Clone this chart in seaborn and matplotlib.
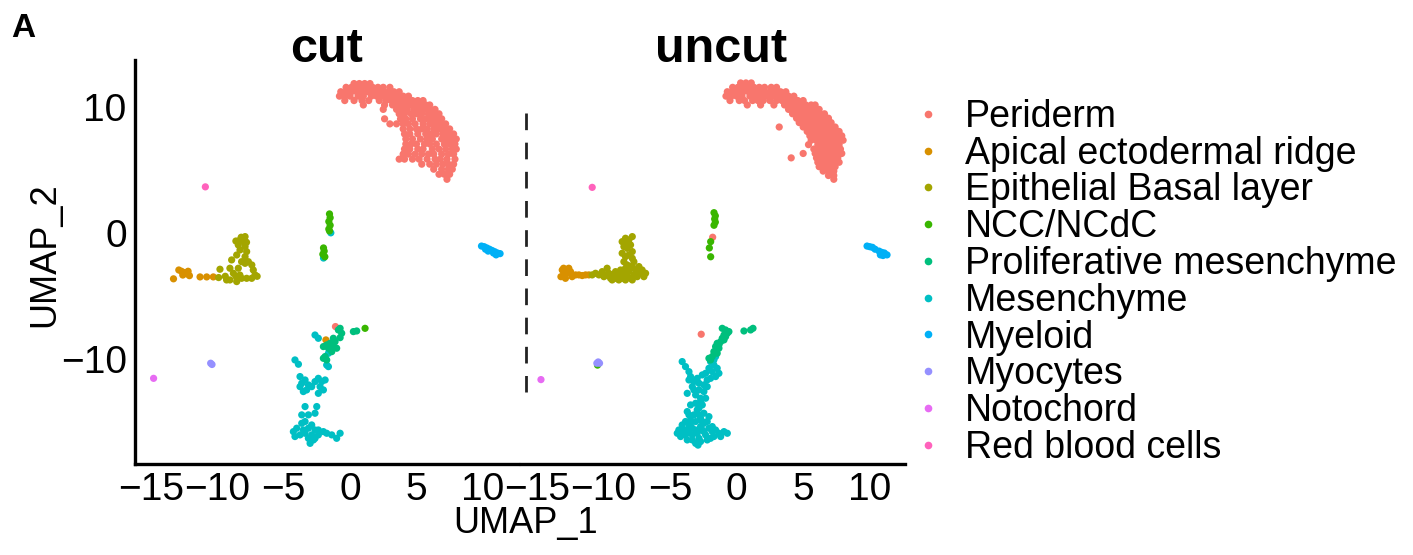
import matplotlib
matplotlib.use('Agg')
from matplotlib import pyplot as plt
from matplotlib.lines import Line2D
import seaborn as sns
from pandas import DataFrame, concat

cell_types = ['Periderm', 'Apical ectodermal ridge', 'Epithelial Basal layer', 'NCC/NCdC',
              'Proliferative mesenchyme', 'Mesenchyme', 'Myeloid', 'Myocytes',
              'Notochord', 'Red blood cells']
type_colors = ['#F8766D', '#D89000', '#A3A500', '#39B600', '#00BF7D',
               '#00BFC4', '#00B0F6', '#9590FF', '#E76BF3', '#FF62BC']
draw_order = ['Mesenchyme', 'Periderm', 'Apical ectodermal ridge', 'Epithelial Basal layer',
              'NCC/NCdC', 'Proliferative mesenchyme', 'Myeloid', 'Myocytes',
              'Notochord', 'Red blood cells']
x_ticks = [-15, -10, -5, 0, 5, 10]
y_ticks = [-10, 0, 10]

# ---- cut: (UMAP_2 row, UMAP_1 values) for the dense periderm arc
cut_periderm_rows = [
    (11.9, [0.3, 0.7, 1.1, 1.5]),
    (11.6, [-0.3, 0.1, 0.5, 0.9, 1.3, 1.7, 2.1, 2.5, 3.0]),
    (11.25, [-0.7, -0.3, 0.1, 0.5, 0.9, 1.3, 1.7, 2.1, 2.5, 2.9, 3.3, 3.7]),
    (10.9, [-0.8, -0.4, 0.0, 0.6, 1.0, 1.6, 2.0, 2.4, 2.8, 3.2, 3.6, 4.0, 4.4]),
    (10.55, [-0.4, 0.3, 0.9, 1.4, 2.2, 2.7, 3.1, 3.5, 3.9, 4.3, 4.7, 5.1, 5.5]),
    (10.2, [1.0, 2.6, 3.2, 3.7, 4.1, 4.5, 4.9, 5.3, 5.7, 6.0]),
    (9.85, [2.5, 3.5, 3.9, 4.3, 4.8, 5.2, 5.6, 6.0, 6.4]),
    (9.5, [3.7, 4.1, 4.6, 5.0, 5.4, 5.9, 6.3, 6.7]),
    (9.1, [2.6, 3.8, 4.2, 4.7, 5.3, 5.7, 6.1, 6.5, 6.9]),
    (8.7, [3.0, 3.5, 4.0, 4.4, 4.9, 5.5, 6.0, 6.4, 6.8, 7.2]),
    (8.3, [4.0, 4.5, 5.0, 5.4, 5.8, 6.3, 6.7, 7.1, 7.5]),
    (7.9, [4.1, 4.5, 5.1, 5.7, 6.1, 6.5, 7.0, 7.4, 7.8]),
    (7.5, [4.2, 4.7, 5.3, 5.8, 6.2, 6.9, 7.3, 7.7, 8.0]),
    (7.1, [4.2, 4.6, 5.0, 5.6, 6.0, 6.5, 7.1, 7.5, 7.9]),
    (6.7, [4.1, 4.5, 5.1, 5.5, 6.2, 6.7, 7.2, 7.7, 8.0]),
    (6.3, [4.0, 4.4, 4.9, 5.4, 5.9, 6.3, 6.9, 7.4, 7.8]),
    (5.9, [3.7, 4.1, 4.7, 5.2, 5.8, 6.4, 6.8, 7.3, 7.9]),
    (5.5, [5.4, 6.0, 6.5, 7.0, 7.4, 7.8]),
    (5.1, [6.3, 6.9, 7.4, 7.7]),
    (4.7, [6.7, 7.1, 7.5]),
    (4.3, [7.3]),
]
cut_periderm_extra = [(-1.1, -7.39)]
cut_apical = [(-13.3, -3.6), (-12.9, -2.9), (-12.7, -3.0), (-12.5, -3.1), (-12.3, -3.2),
              (-12.1, -3.35), (-12.6, -3.3), (-12.2, -3.0), (-11.3, -3.45), (-10.8, -3.45),
              (-10.3, -3.45), (-1.82, -8.45)]
cut_epithelial = [(-7.91, -0.25), (-8.29, -0.52), (-8.04, -0.65), (-8.42, -0.91), (-7.91, -1.04),
                  (-8.29, -1.31), (-7.79, -1.44), (-8.54, -1.71), (-7.91, -1.84), (-7.66, -2.24),
                  (-8.17, -2.24), (-8.2, -0.3), (-8.6, -0.6), (-7.8, -0.7), (-8.92, -2.1),
                  (-9.05, -2.76), (-8.79, -3.16), (-8.42, -2.76), (-7.91, -2.37), (-7.29, -2.9),
                  (-7.16, -3.29), (-7.41, -3.56), (-7.79, -3.56), (-8.17, -3.56), (-8.54, -3.82),
                  (-9.05, -3.69), (-9.3, -3.69), (-9.8, -2.84), (-9.9, -3.5), (-9.4, -3.4),
                  (-8.6, -3.4), (-7.4, -2.5), (-8.3, -3.3), (-7.0, -3.4)]
cut_ncc = [(-1.55, 1.55), (-1.5, 1.25), (-1.6, 0.95), (-1.5, 0.65), (-1.6, 0.35), (-1.55, 0.2),
           (-2.0, -1.15), (-1.95, -1.4), (-2.05, -1.65), (-1.9, -1.85), (1.13, -7.53)]
cut_prolif = [(-0.88, -7.66), (-0.63, -7.92), (-0.75, -8.27), (-1.26, -8.32), (-1.51, -8.72),
              (-1.26, -8.98), (-1.01, -9.11), (-1.76, -8.85), (-2.01, -8.98), (-1.38, -9.38),
              (-1.63, -9.11), (-2.01, -9.91), (-1.76, -10.04), (-1.88, -9.77), (0.25, -7.79),
              (0.5, -7.74), (-1.13, -8.59), (-0.75, -7.53)]
cut_mesenchyme = [(-1.45, 0.05), (-2.0, -1.95), (-2.64, -8.06), (-2.39, -8.32), (-1.63, -9.51),
                  (-1.76, -10.44), (-1.63, -10.57), (-4.15, -10.04), (-3.89, -10.38),
                  (-3.77, -11.36), (-3.64, -11.89), (-3.39, -11.63), (-3.14, -12.02), (-3.27, -12.42),
                  (-2.89, -12.16), (-2.64, -11.76), (-2.39, -11.5), (-2.14, -11.76), (-2.26, -12.16),
                  (-1.88, -11.63), (-2.01, -12.42), (-2.39, -12.69), (-3.77, -12.16), (-3.52, -12.55),
                  (-3.39, -13.74), (-3.14, -14.4), (-2.51, -13.74), (-2.64, -14.27), (-3.64, -14.4),
                  (-4.27, -15.73), (-4.02, -15.46), (-4.15, -16.12), (-3.64, -15.07), (-3.39, -14.93),
                  (-3.14, -15.46), (-2.89, -15.2), (-2.64, -15.6), (-2.89, -15.99), (-3.14, -16.26),
                  (-3.39, -15.86), (-2.64, -16.26), (-2.39, -15.99), (-2.01, -15.73), (-1.76, -15.86),
                  (-1.38, -15.99), (-1.01, -16.26), (-0.75, -15.86), (-3.77, -15.99), (-3.01, -16.66),
                  (-2.76, -16.39), (-3.52, -15.6), (-2.39, -15.6)]
cut_myeloid = [(9.9, -1.0), (10.1, -1.05), (10.3, -1.15), (10.5, -1.25), (10.7, -1.35),
               (10.9, -1.45), (11.1, -1.55), (11.3, -1.6), (10.4, -1.4), (10.8, -1.55),
               (10.2, -1.25), (11.0, -1.7)]
cut_myocytes = [(-10.5, -10.3), (-10.4, -10.4)]
cut_notochord = [(-14.8, -11.5)]
cut_rbc = [(-10.9, 3.7)]

# ---- uncut
uncut_periderm_rows = [
    (11.95, [0.3, 0.7, 1.1]),
    (11.6, [-0.3, 0.1, 0.5, 0.9, 1.3, 1.7, 2.1, 2.6, 3.0]),
    (11.25, [-0.7, -0.3, 0.1, 0.5, 0.9, 1.3, 1.7, 2.1, 2.5, 2.9, 3.3, 3.7]),
    (10.9, [-0.8, -0.4, 0.0, 0.4, 1.0, 1.4, 1.8, 2.3, 2.7, 3.1, 3.5, 3.9, 4.3]),
    (10.55, [-0.5, 0.2, 0.6, 1.2, 1.6, 2.0, 2.5, 3.0, 3.4, 3.8, 4.2, 4.6, 5.0]),
    (10.2, [0.8, 1.8, 2.8, 3.6, 4.0, 4.4, 4.8, 5.2, 5.6, 5.9]),
    (9.85, [3.9, 4.3, 4.7, 5.1, 5.5, 5.9, 6.2]),
    (9.5, [4.2, 4.6, 5.0, 5.4, 5.8, 6.2, 6.6]),
    (9.15, [4.5, 4.9, 5.3, 5.7, 6.1, 6.5, 6.9]),
    (8.8, [4.7, 5.1, 5.5, 5.9, 6.3, 6.7, 7.1]),
    (8.45, [3.2, 5.0, 5.4, 5.8, 6.2, 6.6, 7.0, 7.4]),
    (8.1, [5.3, 5.7, 6.1, 6.5, 6.9, 7.3, 7.7]),
    (7.75, [5.5, 5.9, 6.3, 6.7, 7.1, 7.5, 7.9]),
    (7.4, [5.6, 6.0, 6.4, 6.8, 7.2, 7.6, 8.0]),
    (7.05, [5.4, 6.1, 6.5, 6.9, 7.3, 7.7]),
    (6.7, [5.8, 6.2, 6.6, 7.0, 7.4, 7.8]),
    (6.35, [5.0, 5.9, 6.3, 6.7, 7.1, 7.5, 7.9]),
    (6.0, [4.1, 6.0, 6.4, 6.8, 7.2, 7.6]),
    (5.65, [6.1, 6.5, 6.9, 7.3, 7.7]),
    (5.3, [6.2, 6.6, 7.0, 7.4]),
    (4.95, [6.5, 6.9, 7.3]),
    (4.6, [6.9, 7.3]),
    (4.3, [7.3]),
]
uncut_periderm_extra = [(-1.8, -0.3), (-2.66, -8.0)]
uncut_apical = [(-13.1, -2.9), (-13.0, -3.29), (-12.73, -3.16), (-12.86, -3.56), (-12.48, -3.03),
                (-12.36, -3.43), (-12.1, -3.29), (-11.85, -3.29), (-11.6, -3.34), (-11.35, -3.29),
                (-11.1, -3.29), (-12.61, -2.76), (-13.2, -3.43), (-13.0, -2.76)]
uncut_epithelial = [(-10.85, -3.29), (-10.6, -3.16), (-10.35, -3.29), (-10.1, -3.03), (-9.97, -3.43),
                    (-9.73, -2.76), (-9.6, -3.16), (-9.47, -3.56), (-9.35, -3.29), (-9.1, -3.03),
                    (-9.1, -3.56), (-8.85, -3.29), (-8.72, -2.9), (-8.6, -3.56), (-8.47, -3.16),
                    (-8.22, -3.43), (-8.1, -3.03), (-7.97, -3.56), (-7.72, -3.29), (-7.6, -2.9),
                    (-7.47, -3.43), (-7.34, -2.63), (-7.22, -3.16), (-7.1, -2.9), (-6.97, -3.43),
                    (-6.84, -3.16), (-8.35, -2.76), (-7.84, -2.63), (-9.35, -3.69), (-8.85, -3.69),
                    (-8.35, -3.69), (-7.84, -3.69), (-9.85, -3.29),
                    (-8.6, -0.65), (-8.35, -0.38), (-8.1, -0.52), (-7.84, -0.25), (-7.97, -0.91),
                    (-8.47, -1.04), (-8.22, -1.18), (-8.6, -1.57), (-8.35, -1.84), (-8.1, -1.71),
                    (-7.84, -1.97), (-7.72, -2.24), (-8.47, -2.24), (-8.22, -2.5), (-7.97, -2.63),
                    (-7.84, -1.44), (-8.3, -0.78)]
uncut_ncc = [(-1.7, 1.65), (-1.6, 1.4), (-1.65, 1.15), (-1.6, 0.9), (-1.7, 0.65),
             (-1.95, -0.65), (-2.05, -1.15), (-1.95, -1.85), (-10.45, -10.45)]
uncut_prolif = [(-1.08, -7.53), (-0.83, -7.66), (-0.7, -7.92), (-0.83, -8.19), (-1.08, -8.32),
                (-1.2, -8.59), (-1.46, -8.72), (-1.58, -8.98), (-1.33, -9.11), (-1.71, -9.38),
                (-1.46, -9.51), (-1.83, -9.77), (-1.96, -10.04), (-2.08, -9.91), (-0.95, -8.06),
                (-0.58, -7.79), (0.55, -7.74), (1.05, -7.66), (1.23, -7.53), (-0.95, -8.45),
                (-1.33, -8.85)]
uncut_mesenchyme = [(-4.09, -10.17), (-3.84, -10.57), (-3.58, -10.97), (-3.46, -11.36),
                    (-1.96, -10.17), (-1.71, -10.44), (-2.08, -10.7), (-2.33, -11.1), (-1.83, -10.97),
                    (-1.96, -11.5), (-2.21, -11.63), (-2.46, -12.02), (-2.83, -11.89), (-3.21, -11.76),
                    (-3.58, -11.63), (-3.33, -12.16), (-2.83, -12.42), (-2.46, -12.55), (-3.08, -12.82),
                    (-2.71, -13.08), (-3.08, -13.48), (-2.58, -13.61), (-2.96, -14.0), (-3.21, -14.4),
                    (-2.83, -14.4), (-2.46, -14.27), (-2.71, -14.67), (-3.08, -14.93), (-3.46, -14.8),
                    (-3.84, -14.93), (-4.09, -15.2), (-4.34, -15.6), (-4.46, -15.86), (-4.21, -16.12),
                    (-3.84, -15.99), (-3.58, -15.73), (-3.33, -15.46), (-3.08, -15.6), (-2.71, -15.33),
                    (-2.46, -15.07), (-2.21, -14.93), (-2.08, -15.46), (-1.83, -15.73), (-1.58, -15.6),
                    (-1.33, -15.86), (-0.95, -15.73), (-0.7, -15.86), (-1.2, -16.12), (-1.71, -16.12),
                    (-2.33, -15.99), (-2.83, -16.26), (-3.33, -16.39), (-3.08, -16.66), (-2.71, -16.52),
                    (-3.58, -15.33), (-3.96, -15.6), (-2.46, -15.73), (-2.08, -14.54), (-3.58, -14.4),
                    (-3.71, -14.14), (-3.46, -13.61), (-2.33, -13.08), (-3.71, -12.69), (-3.21, -12.42),
                    (-2.21, -12.16), (-2.58, -11.23), (-2.96, -11.5), (-1.58, -11.36), (-1.46, -10.7),
                    (-1.33, -11.1), (-1.71, -10.04), (-1.58, -9.77), (-1.96, -16.26), (-4.09, -15.86),
                    (-3.33, -15.99), (-2.96, -15.86), (-2.58, -15.6), (-3.46, -15.07), (-2.71, -13.35),
                    (-2.83, -13.87), (-2.58, -14.93), (-1.83, -15.33), (-3.71, -16.39), (-2.21, -16.39),
                    (-2.9, -16.8)]
uncut_myeloid = [(9.8, -1.0), (10.0, -1.05), (10.2, -1.1), (10.4, -1.25), (10.7, -1.4),
                 (10.9, -1.5), (11.1, -1.55), (11.3, -1.7), (10.8, -1.7), (11.0, -1.75)]
uncut_myocytes = [(-10.4, -10.2), (-10.3, -10.3), (-10.5, -10.3)]
uncut_notochord = [(-14.7, -11.6)]
uncut_rbc = [(-10.85, 3.66)]


def rows_to_points(rows):
    return [(x, y) for y, xs in rows for x in xs]


cut_clusters = {
    'Periderm': rows_to_points(cut_periderm_rows) + cut_periderm_extra,
    'Apical ectodermal ridge': cut_apical,
    'Epithelial Basal layer': cut_epithelial,
    'NCC/NCdC': cut_ncc,
    'Proliferative mesenchyme': cut_prolif,
    'Mesenchyme': cut_mesenchyme,
    'Myeloid': cut_myeloid,
    'Myocytes': cut_myocytes,
    'Notochord': cut_notochord,
    'Red blood cells': cut_rbc,
}
uncut_clusters = {
    'Periderm': rows_to_points(uncut_periderm_rows) + uncut_periderm_extra,
    'Apical ectodermal ridge': uncut_apical,
    'Epithelial Basal layer': uncut_epithelial,
    'NCC/NCdC': uncut_ncc,
    'Proliferative mesenchyme': uncut_prolif,
    'Mesenchyme': uncut_mesenchyme,
    'Myeloid': uncut_myeloid,
    'Myocytes': uncut_myocytes,
    'Notochord': uncut_notochord,
    'Red blood cells': uncut_rbc,
}


def to_frame(clusters):
    parts = []
    for name in draw_order:
        part = DataFrame(clusters[name], columns=['UMAP_1', 'UMAP_2'])
        part['cell_type'] = name
        parts.append(part)
    return concat(parts, ignore_index=True)


df_cut = to_frame(cut_clusters)
df_uncut = to_frame(uncut_clusters)

sns.set_style('white')
plt.rcParams['font.family'] = ['Liberation Sans', 'DejaVu Sans']
plt.rcParams['text.color'] = 'black'
plt.rcParams['axes.labelcolor'] = 'black'
plt.rcParams['xtick.color'] = 'black'
plt.rcParams['ytick.color'] = 'black'

W, H = 1413, 555
fig = plt.figure(figsize=(W / 100, H / 100), dpi=100)
ax_cut = fig.add_axes([135 / W, (H - 464) / H, 383 / W, 404 / H])
ax_uncut = fig.add_axes([521 / W, (H - 464) / H, 384 / W, 404 / H])
palette = dict(zip(cell_types, type_colors))

for ax, df in [(ax_cut, df_cut), (ax_uncut, df_uncut)]:
    sns.scatterplot(data=df, x='UMAP_1', y='UMAP_2', hue='cell_type', palette=palette,
                    s=27, linewidth=0, alpha=1, legend=False, ax=ax)
    ax.set_xlim(-16.2, 12.65)
    ax.set_ylim(-18.3, 13.77)
    ax.set_xticks(x_ticks)
    ax.set_yticks(y_ticks)
    ax.set_xlabel('')
    ax.set_ylabel('')
    for side in ['top', 'right']:
        ax.spines[side].set_visible(False)
    for side in ['left', 'bottom']:
        ax.spines[side].set_linewidth(2.4)
        ax.spines[side].set_color('black')
    ax.tick_params(axis='both', length=4, width=1.3, color='black', labelsize=28,
                   labelcolor='black', pad=2, direction='out')
    ax.set_facecolor('none')

ax_uncut.spines['left'].set_visible(False)
ax_uncut.tick_params(axis='y', left=False, labelleft=False)

# dashed separator inside the uncut panel
ax_uncut.plot([-15.8, -15.8], [9.6, -12.6], color='#222222', linewidth=2.0,
              linestyle=(0, (6, 4.5)))

fig.text(326.5 / W, 1 - 62 / H, 'cut', ha='center', va='baseline', fontsize=35, fontweight='bold')
fig.text(721 / W, 1 - 62 / H, 'uncut', ha='center', va='baseline', fontsize=35, fontweight='bold')
fig.text(11 / W, 1 - 37 / H, 'A', ha='left', va='baseline', fontsize=24, fontweight='bold')
fig.text(45 / W, 1 - 255 / H, 'UMAP_2', rotation=90, ha='center', va='center', fontsize=26)
fig.text(526 / W, 1 - 524 / H, 'UMAP_1', ha='center', va='center', fontsize=26)

handles = [Line2D([], [], marker='o', linestyle='', markersize=5.5,
                  markerfacecolor=c, markeredgewidth=0) for c in type_colors]
fig.legend(handles, cell_types, loc='upper left', bbox_to_anchor=(913 / W, 1 - 99 / H),
           frameon=False, fontsize=27, labelspacing=0.02, handletextpad=0.59,
           handlelength=0.8, borderpad=0, borderaxespad=0)

fig.savefig('out.png', dpi=100)
